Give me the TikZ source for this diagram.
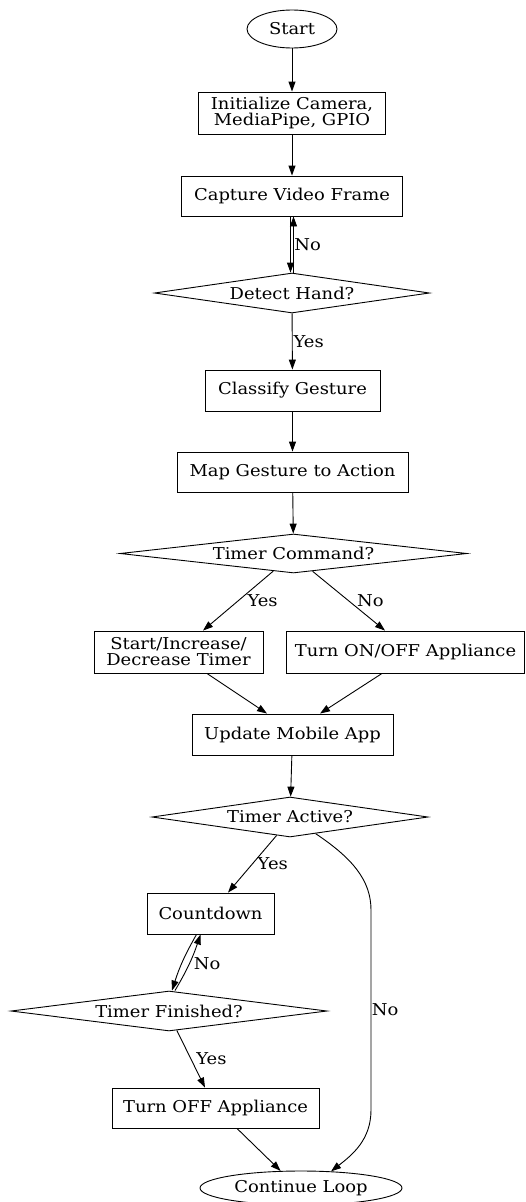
\documentclass[tikz,border=0pt]{standalone}
\usepackage{fontspec}
\setmainfont{DejaVu Serif}[FakeStretch=1.1]
\usetikzlibrary{shapes.geometric,arrows.meta,calc}
\begin{document}
\begin{tikzpicture}[x=1pt,y=-1pt,
  every node/.style={font=\fontsize{16.3}{16}\selectfont},
  box/.style={draw, rectangle, inner sep=0pt, line width=0.9pt, align=center},
  dec/.style={draw, diamond, inner sep=0pt, line width=0.9pt},
  term/.style={draw, ellipse, inner sep=0pt, line width=0.9pt},
  arr/.style={-{Triangle[length=10pt,width=7pt]}, line width=0.9pt},
  lab/.style={anchor=west, inner sep=0pt, draw=none}]
\useasboundingbox (0,0) rectangle (526,1202);
% nodes
\node[term, minimum width=90pt, minimum height=38pt] (start) at (292,29) {\makebox[0pt]{Start}};
\node[box, minimum width=187pt, minimum height=42pt] (init) at (292,113) {Initialize Camera,\\MediaPipe, GPIO};
\node[box, minimum width=221pt, minimum height=40pt] (cap) at (292,196) {Capture Video Frame};
\node[dec, minimum width=275pt, minimum height=40pt] (det) at (292,293) {\makebox[0pt]{Detect Hand?}};
\node[box, minimum width=175pt, minimum height=41pt] (cls) at (292.5,390.5) {Classify Gesture};
\node[box, minimum width=231pt, minimum height=40pt] (map) at (292.5,472) {Map Gesture to Action};
\node[dec, minimum width=347pt, minimum height=39pt] (tc) at (293.5,553.5) {\makebox[0pt]{Timer Command?}};
\node[box, minimum width=169pt, minimum height=42pt] (sit) at (178.5,652) {Start/Increase/\\Decrease Timer};
\node[box, minimum width=238pt, minimum height=42pt] (ton) at (405.5,652) {Turn ON/OFF Appliance};
\node[box, minimum width=201pt, minimum height=41pt] (upd) at (292.5,734.5) {Update Mobile App};
\node[dec, minimum width=276pt, minimum height=40pt] (ta) at (290,817) {\makebox[0pt]{Timer Active?}};
\node[box, minimum width=127pt, minimum height=41pt] (cd) at (210.5,913.5) {Countdown};
\node[dec, minimum width=316pt, minimum height=40pt] (tf) at (169,1011) {\makebox[0pt]{Timer Finished?}};
\node[box, minimum width=207pt, minimum height=40pt] (toff) at (215.5,1108) {Turn OFF Appliance};
\node[term, minimum width=202pt, minimum height=34pt] (cont) at (301,1188) {\makebox[0pt]{Continue Loop}};
% edges
\draw[arr] (start) -- (init);
\draw[arr] (init) -- (cap);
\draw[arr] ([xshift=-1.5pt]cap.south) -- ([xshift=-1.5pt]det.north);
\draw[arr] ([xshift=1.5pt]det.north) -- node[lab, xshift=0.5pt] {No} ([xshift=1.5pt]cap.south);
\draw[arr] (det) -- node[lab, xshift=1pt] {Yes} (cls);
\draw[arr] (cls) -- (map);
\draw[arr] (map) -- (tc);
\draw[arr] (tc.221) -- node[lab, xshift=9pt] {Yes} ([xshift=24.5pt]sit.north);
\draw[arr] (tc.-43) -- node[lab, xshift=8pt] {No} ([xshift=-20.5pt]ton.north);
\draw[arr] ([xshift=28.5pt]sit.south) -- ([xshift=-25.5pt]upd.north);
\draw[arr] ([xshift=-23.5pt]ton.south) -- ([xshift=27.5pt]upd.north);
\draw[arr] (upd) -- (ta);
\draw[arr] (ta.234) -- node[lab, xshift=5pt] {Yes} ([xshift=17.5pt]cd.north);
\draw[arr] (ta.-33) .. controls (352,858) and (371,880) .. (371,910)
  -- node[lab, xshift=0.5pt] {No} (371,1110)
  .. controls (371,1140) and (352,1155) .. (cont.29);
\draw[arr] ([xshift=-14pt]cd.south) to[bend right=6] ([xshift=3pt]tf.north);
\draw[arr] ([xshift=6pt]tf.north) to[bend right=6] node[lab, xshift=4pt] {No} ([xshift=-10pt]cd.south);
\draw[arr] (tf.-68) -- node[lab, xshift=5pt] {Yes} ([xshift=-10.5pt]toff.north);
\draw[arr] ([xshift=21.5pt]toff.south) -- (cont.140);
\end{tikzpicture}
\end{document}
